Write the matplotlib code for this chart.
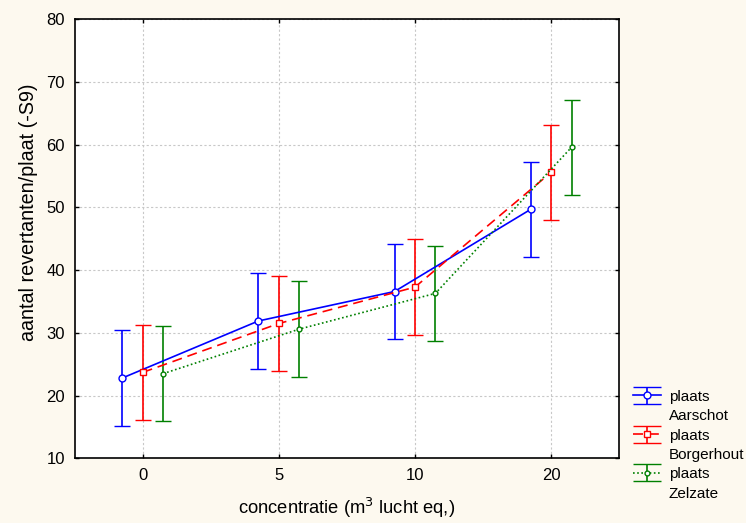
import matplotlib
matplotlib.use('Agg')
import matplotlib.pyplot as plt
from matplotlib.lines import Line2D
from matplotlib.legend_handler import HandlerErrorbar
import numpy as np

# ── data ──────────────────────────────────────────────────────────────────────
categories = ['0', '5', '10', '20']
places = ['Aarschot', 'Borgerhout', 'Zelzate']

aarschot_mean = [22.8, 31.9, 36.6, 49.7]
aarschot_err = [7.6, 7.6, 7.6, 7.6]
borgerhout_mean = [23.7, 31.5, 37.3, 55.6]
borgerhout_err = [7.6, 7.6, 7.6, 7.6]
zelzate_mean = [23.5, 30.6, 36.3, 59.6]
zelzate_err = [7.6, 7.6, 7.6, 7.6]

# ── style ─────────────────────────────────────────────────────────────────────
BG = '#fdf9ef'
plt.rcParams['font.family'] = ['Liberation Sans', 'DejaVu Sans']


class WideCapHandler(HandlerErrorbar):
    # legend symbol with caps spanning the whole handle width
    def create_artists(self, legend, orig_handle, xdescent, ydescent,
                       width, height, fontsize, trans):
        arts = super().create_artists(legend, orig_handle, xdescent, ydescent,
                                      width, height, fontsize, trans)
        for a in arts:
            if isinstance(a, Line2D) and a.get_marker() == '_':
                a.set_markersize(width)
        return arts


fig = plt.figure(figsize=(7.46, 5.23), dpi=100)
fig.patch.set_facecolor(BG)
ax = fig.add_axes([0.100, 0.1237, 0.730, 0.8393])
ax.set_facecolor('white')

x = np.arange(len(categories))
styles = [
    (aarschot_mean, aarschot_err, -0.15, '#0000ff', '-', 'o', 5),
    (borgerhout_mean, borgerhout_err, 0.0, '#ff0000', (0, (6, 3.5)), 's', 5),
    (zelzate_mean, zelzate_err, 0.15, '#008000', (0, (1, 1.5)), 'o', 3.5),
]

leg_handles, leg_labels = [], []
blank = Line2D([], [], linestyle='none', marker='none')
for (mean, err, off, col, ls, mk, ms), name in zip(styles, places):
    h = ax.errorbar(x + off, mean, yerr=err, color=col, linestyle=ls, lw=1.2,
                    marker=mk, markersize=ms, markerfacecolor='white',
                    markeredgecolor=col, markeredgewidth=1.0,
                    capsize=5.5, capthick=1.2, elinewidth=1.2, zorder=3)
    leg_handles += [h, blank]
    leg_labels += ['plaats', name]

ax.set_xlim(-0.5, 3.5)
ax.set_ylim(10, 80)
ax.set_xticks(x)
ax.set_xticklabels(categories)
ax.set_yticks(np.arange(10, 81, 10))

ax.grid(True, color='#c8c8c8', linestyle=(0, (2, 2)), linewidth=0.8, zorder=0)
ax.tick_params(direction='in', length=3, width=1, labelsize=12, pad=7,
               top=True, right=True, colors='black')
for sp in ax.spines.values():
    sp.set_linewidth(1.2)

ax.set_xlabel('concentratie (m$^3$ lucht eq,)', fontsize=13.2, labelpad=9)
ax.set_ylabel('aantal revertanten/plaat (-S9)', fontsize=14.2)
ax.yaxis.set_label_coords(-0.067, 0.56)

leg = ax.legend(handles=leg_handles, labels=leg_labels,
                handler_map={type(leg_handles[0]): WideCapHandler(yerr_size=0.55)},
                loc='upper left', bbox_to_anchor=(1.026, 0.156),
                frameon=False, fontsize=11, handlelength=1.8,
                handletextpad=0.52, labelspacing=0.35, borderaxespad=0.0,
                borderpad=0.0)

fig.savefig('out.png', dpi=100, facecolor=BG)
